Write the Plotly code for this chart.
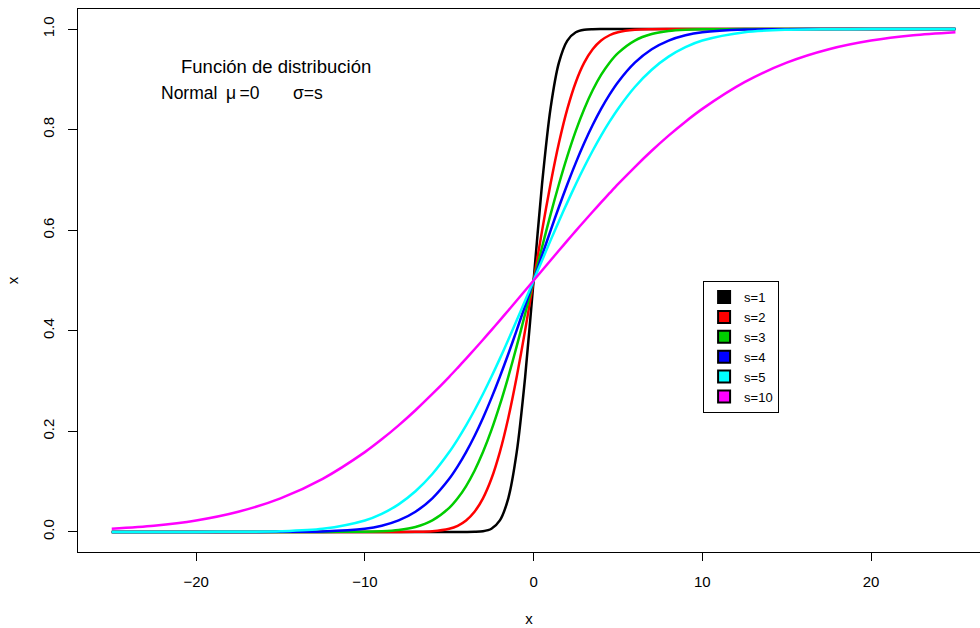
import plotly.graph_objects as go

# x positions
x_vals = [-25, -22.5, -20, -17.5, -15, -12.5, -10, -9, -8, -7, -6, -5, -4.5, -4, -3.5, -3, -2.5, -2, -1.5, -1, -0.5,
          0, 0.5, 1, 1.5, 2, 2.5, 3, 3.5, 4, 4.5, 5, 6, 7, 8, 9, 10, 12.5, 15, 17.5, 20, 22.5, 25]

s1 = [0, 0, 0, 0, 0, 0, 0, 0, 0, 0, 0, 0, 0, 0, 0.0002, 0.0013, 0.0062, 0.0228, 0.0668, 0.1587, 0.3085,
      0.5, 0.6915, 0.8413, 0.9332, 0.9772, 0.9938, 0.9987, 0.9998, 1, 1, 1, 1, 1, 1, 1, 1, 1, 1, 1, 1, 1, 1]
s2 = [0, 0, 0, 0, 0, 0, 0, 0, 0, 0.0002, 0.0013, 0.0062, 0.0122, 0.0228, 0.0401, 0.0668, 0.1056, 0.1587, 0.2266, 0.3085, 0.4013,
      0.5, 0.5987, 0.6915, 0.7734, 0.8413, 0.8944, 0.9332, 0.9599, 0.9772, 0.9878, 0.9938, 0.9987, 0.9998, 1, 1, 1, 1, 1, 1, 1, 1, 1]
s3 = [0, 0, 0, 0, 0, 0, 0.0004, 0.0013, 0.0038, 0.0098, 0.0228, 0.0478, 0.0668, 0.0912, 0.1217, 0.1587, 0.2023, 0.2525, 0.3085, 0.3694, 0.4338,
      0.5, 0.5662, 0.6306, 0.6915, 0.7475, 0.7977, 0.8413, 0.8783, 0.9088, 0.9332, 0.9522, 0.9772, 0.9902, 0.9962, 0.9987, 0.9996, 1, 1, 1, 1, 1, 1]
s4 = [0, 0, 0, 0, 0.0001, 0.0009, 0.0062, 0.0122, 0.0228, 0.0401, 0.0668, 0.1056, 0.1303, 0.1587, 0.1908, 0.2266, 0.2660, 0.3085, 0.3538, 0.4013, 0.4503,
      0.5, 0.5497, 0.5987, 0.6462, 0.6915, 0.7340, 0.7734, 0.8092, 0.8413, 0.8697, 0.8944, 0.9332, 0.9599, 0.9772, 0.9878, 0.9938, 0.9991, 0.9999, 1, 1, 1, 1]
s5 = [0, 0, 0, 0.0002, 0.0013, 0.0062, 0.0228, 0.0359, 0.0548, 0.0808, 0.1151, 0.1587, 0.1841, 0.2119, 0.2420, 0.2743, 0.3085, 0.3446, 0.3821, 0.4207, 0.4602,
      0.5, 0.5398, 0.5793, 0.6179, 0.6554, 0.6915, 0.7257, 0.7580, 0.7881, 0.8159, 0.8413, 0.8849, 0.9192, 0.9452, 0.9641, 0.9772, 0.9938, 0.9987, 0.9998, 1, 1, 1]
s10 = [0.0062, 0.0122, 0.0228, 0.0401, 0.0668, 0.1056, 0.1587, 0.1841, 0.2119, 0.2420, 0.2743, 0.3085, 0.3264, 0.3446, 0.3632, 0.3821, 0.4013, 0.4207, 0.4404, 0.4602, 0.4801,
       0.5, 0.5199, 0.5398, 0.5596, 0.5793, 0.5987, 0.6179, 0.6368, 0.6554, 0.6736, 0.6915, 0.7257, 0.7580, 0.7881, 0.8159, 0.8413, 0.8944, 0.9332, 0.9599, 0.9772, 0.9878, 0.9938]

series_names = ["s=1", "s=2", "s=3", "s=4", "s=5", "s=10"]
series_vals = [s1, s2, s3, s4, s5, s10]
colors = ["#000000", "#FF0000", "#00CD00", "#0000FF", "#00FFFF", "#FF00FF"]

x_ticks = [-20, -10, 0, 10, 20]
y_ticks = [0.0, 0.2, 0.4, 0.6, 0.8, 1.0]
y_ticklabels = ["0.0", "0.2", "0.4", "0.6", "0.8", "1.0"]

title_line1 = "Función de distribución"
title_parts = ["Normal", "\u03bc\u2009=0", "\u03c3=s"]

FONT = "Liberation Sans, Arial, Helvetica, sans-serif"
L, T, PW, PH = 78, 9, 902, 543

fig = go.Figure()
for name, vals, col in zip(series_names, series_vals, colors):
    fig.add_trace(go.Scatter(x=x_vals, y=vals, mode="lines", name=name,
                             line=dict(color=col, width=2.5, shape="spline", smoothing=0.8),
                             showlegend=False, hoverinfo="skip"))
# legend entries with square swatches
for name, col in zip(series_names, colors):
    fig.add_trace(go.Scatter(x=[None], y=[None], mode="markers", name=name,
                             marker=dict(symbol="square", size=10, color=col,
                                         line=dict(color="black", width=1)),
                             showlegend=True))

fig.update_layout(
    width=980, height=628,
    margin=dict(l=L, r=0, t=T, b=76),
    paper_bgcolor="white", plot_bgcolor="white",
    font=dict(family=FONT, size=15, color="black"),
    showlegend=True,
    legend=dict(x=0.693, y=0.499, xanchor="left", yanchor="top",
                bgcolor="white", bordercolor="black", borderwidth=1,
                font=dict(family=FONT, size=13, color="black"),
                tracegroupgap=0, itemsizing="constant"),
    xaxis=dict(range=[-27, 26.455], tickmode="array", tickvals=x_ticks,
               showgrid=False, zeroline=False, showline=True, linecolor="black", linewidth=1,
               mirror=True, ticks="outside", ticklen=8, tickcolor="black",
               ticklabelstandoff=8,
               title=dict(text="x", font=dict(size=15), standoff=24)),
    yaxis=dict(range=[-0.04, 1.04], tickmode="array", tickvals=y_ticks, ticktext=y_ticklabels,
               showgrid=False, zeroline=False, showline=True, linecolor="black", linewidth=1,
               mirror=False, ticks="outside", ticklen=9, tickcolor="black", tickangle=-90,
               ticklabelstandoff=8,
               title=dict(text="x", font=dict(size=15), standoff=17)),
)

def px(xp):
    return (xp - L) / PW

def py(yp):
    return 1 - (yp - T) / PH

fig.add_annotation(x=px(276), y=py(67), xref="paper", yref="paper",
                   text=title_line1, showarrow=False,
                   font=dict(family=FONT, size=18.5, color="black"), xanchor="center", yanchor="middle")
for part, xp in zip(title_parts, [159, 224, 291]):
    fig.add_annotation(x=px(xp), y=py(93), xref="paper", yref="paper",
                       text=part, showarrow=False,
                       font=dict(family=FONT, size=17.5, color="black"), xanchor="left", yanchor="middle")

fig.write_html("out.html")
